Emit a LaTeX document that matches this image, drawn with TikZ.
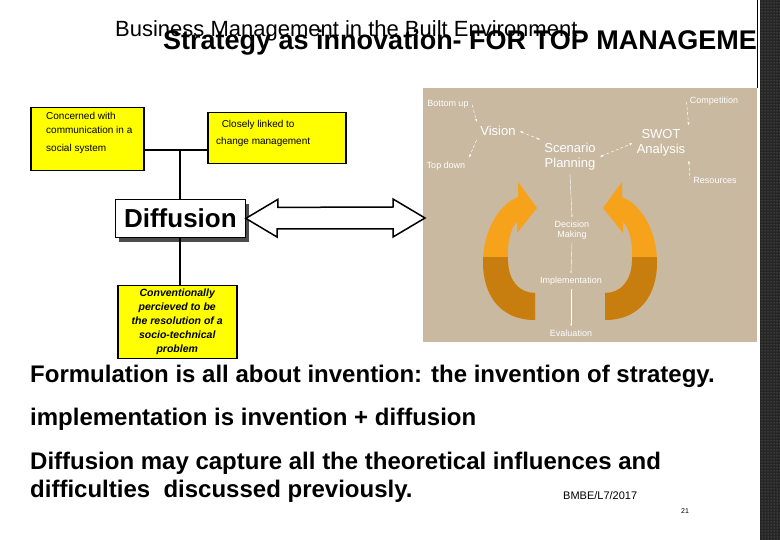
\documentclass[tikz,border=0pt]{standalone}
\usepackage{fontspec}
\setmainfont{Liberation Sans}
\usetikzlibrary{arrows.meta,patterns}
\definecolor{tan}{RGB}{200,185,160}
\definecolor{orA}{RGB}{247,162,27}
\definecolor{orB}{RGB}{199,126,15}
\definecolor{ybox}{RGB}{255,255,0}
\begin{document}
\begin{tikzpicture}[x=1pt,y=-1pt,
  ybx/.style={draw=black,line width=1.5pt,fill=ybox,inner sep=0pt,anchor=north west},
  wt/.style={text=white,font=\fontsize{9}{10}\selectfont,align=center},
  wb/.style={text=white,font=\fontsize{13}{15}\selectfont,align=center},
  da/.style={white,densely dashed,line width=0.5pt,{Stealth[length=3pt]}-{Stealth[length=3pt]},shorten <=1pt,shorten >=1pt},
  lk/.style={line width=2pt}]
\useasboundingbox (0,0) rectangle (780,540);
\fill[white] (0,0) rectangle (780,540);
% dark band
\fill[black!85] (760,0) rectangle (780,540);
\fill[pattern=dots,pattern color=gray] (760,0) rectangle (780,540);
\draw[line width=1pt] (757,0) -- (757,88);
% titles
\node[font=\fontsize{22}{24}\selectfont,anchor=base west,inner sep=0pt] (t1) at (115,37) {Business Management in the Built Environment};
\node[font=\bfseries\fontsize{27}{29}\selectfont,anchor=base west,inner sep=0pt] (t2) at (163,50) {Strategy as innovation- FOR TOP MANAGEME};
% picture
\fill[tan] (423,88) rectangle (757,342);
\begin{scope}
 \def\arr{(535,320) .. controls (500,320) and (483,295) .. (483,262) .. controls (483,232) and (498,205) .. (518,197) -- (518,182) -- (537,208) -- (517,233) -- (517,222) .. controls (510,228) and (507,245) .. (508,262) .. controls (509,282) and (520,293) .. (535,293) -- cycle}
 \fill[orA] \arr;
 \begin{scope}\clip (423,258) rectangle (757,342); \fill[orB] \arr; \end{scope}
 \begin{scope}[xshift=1140pt,xscale=-1]
 \fill[orA] \arr;
 \begin{scope}\clip (-200,258) rectangle (757,342); \fill[orB] \arr; \end{scope}
 \end{scope}
\end{scope}
\node[wt] (bu) at (448,104) {Bottom up};
\node[wt] (td) at (446,166) {Top down};
\node[wb] (vi) at (498,131) {Vision};
\node[wb] (sp) at (570,157) {Scenario\\Planning};
\node[wb] (sw) at (661,143) {SWOT\\Analysis};
\node[wt] (co) at (714,101) {Competition};
\node[wt] (re) at (715,180) {Resources};
\node[wt] (dm) at (572,230) {Decision\\Making};
\node[wt] (im) at (571,281) {Implementation};
\node[wt] (ev) at (571,333) {Evaluation};
\draw[da,-{Stealth[length=3pt]}] (bu.east) -- (vi.north west);
\draw[da,-{Stealth[length=3pt]}] (vi.south west) -- (td.north east);
\draw[da] (vi.east) -- (sp.north west);
\draw[da] (sp.east) -- (sw.west);
\draw[da,-{Stealth[length=3pt]}] (co.west) -- (sw.north east);
\draw[da,{Stealth[length=3pt]}-] (sw.south east) -- (re.west);
\draw[white,line width=0.4pt,-{Stealth[length=2pt]}] (sp.south) -- (dm.north);
\draw[white,line width=0.4pt,-{Stealth[length=2pt]}] (dm.south) -- (im.north);
\draw[white,line width=0.4pt,-{Stealth[length=2pt]}] (im.south) -- (ev.north);
% yellow boxes
\node[ybx,minimum width=113pt,minimum height=63pt] (b1) at (30,107) {};
\node[anchor=north west,font=\fontsize{10}{14}\selectfont,align=left,inner sep=0pt] at (46,112) {Concerned with\\communication in a\\[4pt]social system};
\node[ybx,minimum width=138pt,minimum height=51pt] (b2) at (207,112) {};
\node[anchor=north west,font=\fontsize{10}{17}\selectfont,align=left,inner sep=0pt] at (216,120) {\ \ Closely linked to\\change management};
\coordinate (j) at (180,150);
\draw[lk] (b1.east|-j) -- (b2.west|-j);
% diffusion
\fill[black!70] (119,204) rectangle (249,242);
\node[draw,fill=white,line width=0.8pt,anchor=north west,minimum width=130pt,minimum height=38pt,inner sep=0pt,font=\bfseries\fontsize{26}{28}\selectfont] (df) at (115,199) {Diffusion};
\draw[lk] (j) -- (j|-df.north);
\node[ybx,minimum width=119pt,minimum height=73pt] (b3) at (117,285) {};
\node[font=\bfseries\itshape\fontsize{10.5}{14}\selectfont,align=center] at (b3.center) {Conventionally\\percieved to be\\the resolution of a\\socio-technical\\problem};
\draw[lk] (j|-df.south) -- (j|-b3.north);
% double arrow
\coordinate (ae) at (425,218);
\draw[line width=1.5pt,fill=white,line join=miter] (df.east) -- ++(32,-19) -- ++(0,8) -- (393,207) -- (393,199) -- (ae) -- (393,237) -- (393,229) -- (277,229) -- (277,237) -- cycle;
% bottom text
\begin{scope}[every node/.style={anchor=base west,font=\bfseries\fontsize{24}{26}\selectfont,inner sep=0pt}]
\node (l1) at (30,383) {Formulation is all about invention: the invention of strategy.};
\node (l2) at (30,425) {implementation is invention + diffusion};
\node (l3) at (30,469) {Diffusion may capture all the theoretical influences and};
\node (l4) at (30,497) {difficulties\ \ discussed previously.};
\end{scope}
\node[anchor=base west,font=\fontsize{11}{12}\selectfont,inner sep=0pt] (bm) at (563,499) {BMBE/L7/2017};
\node[anchor=base west,font=\fontsize{7}{8}\selectfont,inner sep=0pt] (pg) at (681,513) {21};
\end{tikzpicture}
\end{document}
